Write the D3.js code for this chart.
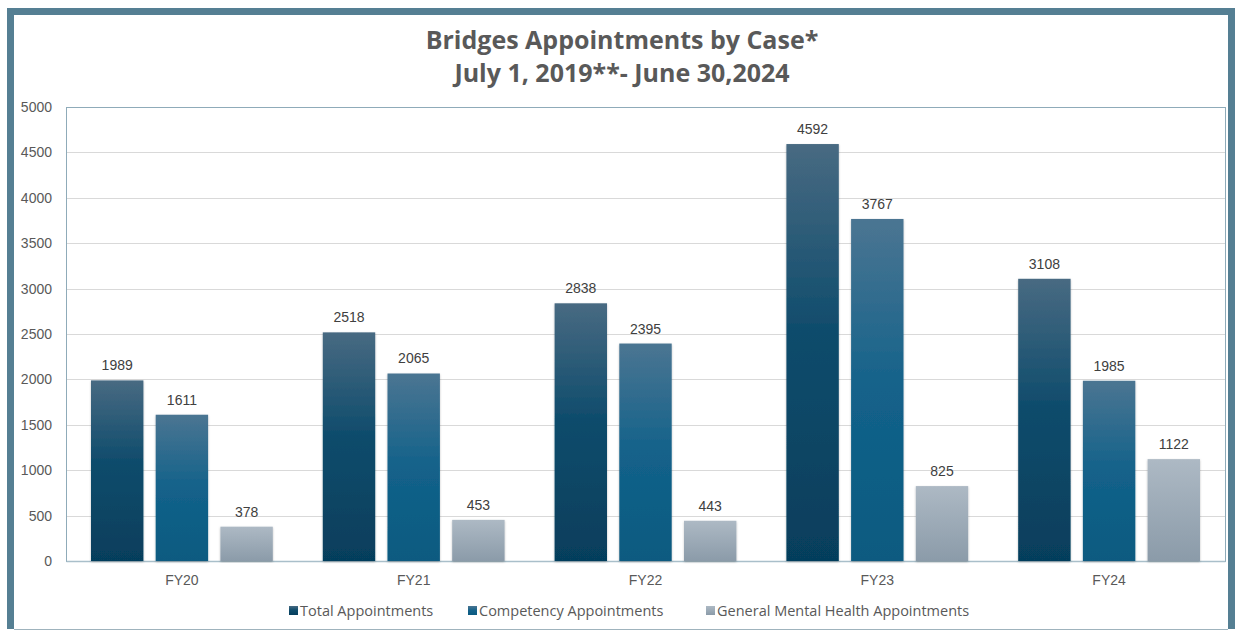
<!DOCTYPE html>
<html>
<head>
<meta charset="utf-8">
<script src="https://cdn.jsdelivr.net/npm/d3@7"></script>
<style>
  html, body { margin: 0; padding: 0; background: #ffffff; }
  svg { display: block; }
</style>
</head>
<body>
<svg id="chart" width="1239" height="630"></svg>
<script>
const categories = ["FY20", "FY21", "FY22", "FY23", "FY24"];
const seriesNames = ["Total Appointments", "Competency Appointments", "General Mental Health Appointments"];
const totalAppointments = [1989, 2518, 2838, 4592, 3108];
const competencyAppointments = [1611, 2065, 2395, 3767, 1985];
const generalMentalHealthAppointments = [378, 453, 443, 825, 1122];
const yTicks = [0, 500, 1000, 1500, 2000, 2500, 3000, 3500, 4000, 4500, 5000];

(function () {
const seriesValues = [totalAppointments, competencyAppointments, generalMentalHealthAppointments];
const gradStops = [
  [["0%", "#486a82"], ["45%", "#0f4c6c"], ["100%", "#063e5c"]],
  [["0%", "#4b7592"], ["50%", "#13628a"], ["100%", "#0a5a80"]],
  [["0%", "#adb9c4"], ["100%", "#8b9ba9"]]
];

const svg = d3.select("#chart");
const W = 1239, H = 630;

svg.append("rect").attr("x", 0).attr("y", 0).attr("width", W).attr("height", H).attr("fill", "#ffffff");
svg.append("path")
  .attr("d", "M10.5,629 L10.5,11.5 L1231.5,11.5 L1231.5,629")
  .attr("fill", "none").attr("stroke", "#557f93").attr("stroke-width", 7);
svg.append("line").attr("x1", 14).attr("x2", 1228).attr("y1", 629.5).attr("y2", 629.5)
  .attr("stroke", "#9fb3bd").attr("stroke-width", 1);

const defs = svg.append("defs");
gradStops.forEach((stops, i) => {
  const g = defs.append("linearGradient").attr("id", "g" + i)
    .attr("x1", 0).attr("y1", 0).attr("x2", 0).attr("y2", 1);
  stops.forEach(s => g.append("stop").attr("offset", s[0]).attr("stop-color", s[1]));
});
const f = defs.append("filter").attr("id", "sh").attr("x", "-20%").attr("y", "-5%").attr("width", "140%").attr("height", "110%");
f.append("feDropShadow").attr("dx", 0).attr("dy", 1).attr("stdDeviation", 1.3).attr("flood-color", "#000").attr("flood-opacity", 0.25);

const title = svg.append("text").attr("text-anchor", "middle")
  .attr("font-family", "'Open Sans', sans-serif").attr("font-weight", 700)
  .attr("font-size", 25).attr("fill", "#595959");
title.append("tspan").attr("x", 622).attr("y", 49).text("Bridges Appointments by Case*");
title.append("tspan").attr("x", 622).attr("y", 82).text("July 1, 2019**- June 30,2024");

const pLeft = 66, pRight = 1225, pTop = 107, pBottom = 561;
const x0 = d3.scaleBand().domain(categories).range([pLeft, pRight]).paddingInner(0).paddingOuter(0);
const x1 = d3.scaleBand().domain(d3.range(3)).range([25, x0.bandwidth() - 25]).paddingInner(0.19).paddingOuter(0);
const y = d3.scaleLinear().domain([0, 5000]).range([pBottom, pTop]);

svg.append("g").selectAll("line").data(yTicks.filter(d => d > 0 && d < 5000)).join("line")
  .attr("x1", pLeft).attr("x2", pRight)
  .attr("y1", d => Math.round(y(d)) + 0.5).attr("y2", d => Math.round(y(d)) + 0.5)
  .attr("stroke", "#d9d9d9").attr("stroke-width", 1);

svg.append("rect").attr("x", pLeft + 0.5).attr("y", pTop + 0.5)
  .attr("width", pRight - pLeft).attr("height", pBottom - pTop)
  .attr("fill", "none").attr("stroke", "#8fabb9").attr("stroke-width", 1);

const yAxis = d3.axisLeft(y).tickValues(yTicks).tickSize(0).tickPadding(14).tickFormat(d3.format("d"));
const ya = svg.append("g").attr("transform", `translate(${pLeft},0)`).call(yAxis);
ya.select(".domain").remove();
ya.selectAll("text").attr("font-family", "'Liberation Sans', Arial, sans-serif")
  .attr("font-size", 14).attr("fill", "#595959");

const xAxis = d3.axisBottom(x0).tickSize(0).tickPadding(14);
const xa = svg.append("g").attr("transform", `translate(0,${pBottom})`).call(xAxis);
xa.select(".domain").attr("stroke", "#a9bfca").attr("stroke-width", 1.5);
xa.selectAll("text").attr("font-family", "'Liberation Sans', Arial, sans-serif")
  .attr("font-size", 14).attr("fill", "#595959");

const groups = svg.append("g").selectAll("g").data(categories).join("g")
  .attr("transform", d => `translate(${x0(d)},0)`);
groups.each(function(cat, ci) {
  const g = d3.select(this);
  seriesValues.forEach((vals, si) => {
    const v = vals[ci];
    g.append("rect")
      .attr("x", x1(si)).attr("width", x1.bandwidth())
      .attr("y", y(v)).attr("height", y(0) - y(v))
      .attr("fill", `url(#g${si})`).attr("filter", "url(#sh)");
    g.append("text")
      .attr("x", x1(si) + x1.bandwidth() / 2).attr("y", y(v) - 10)
      .attr("text-anchor", "middle")
      .attr("font-family", "'Liberation Sans', Arial, sans-serif")
      .attr("font-size", 14).attr("fill", "#404040")
      .text(v);
  });
});

const legendX = [289, 468, 706];
const lg = svg.append("g").selectAll("g").data(seriesNames).join("g")
  .attr("transform", (d, i) => `translate(${legendX[i]},606)`);
lg.append("rect").attr("x", 0).attr("y", 0).attr("width", 9).attr("height", 9)
  .attr("fill", (d, i) => `url(#g${i})`);
lg.append("text").attr("x", 11).attr("y", 10)
  .attr("font-family", "'Open Sans', sans-serif").attr("font-size", 14.5)
  .attr("fill", "#595959").text(d => d);
})();
</script>
</body>
</html>
